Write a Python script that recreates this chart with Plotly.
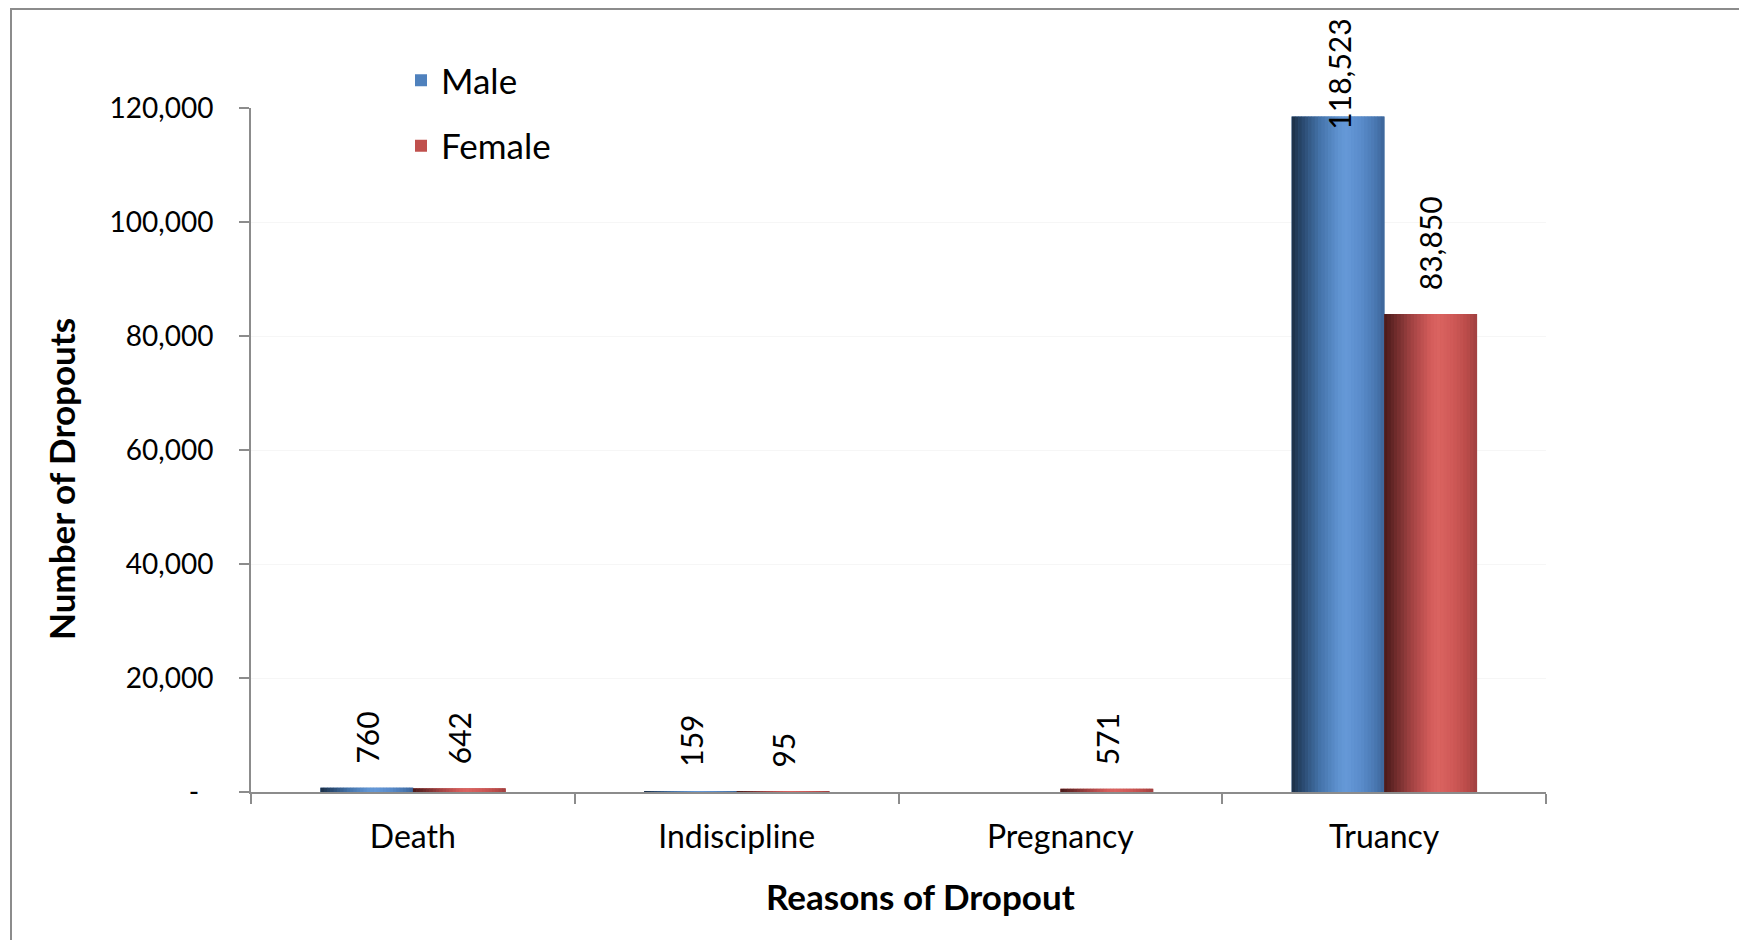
import plotly.graph_objects as go

# ---------------- data ----------------
categories = ["Death", "Indiscipline", "Pregnancy", "Truancy"]
male = [760, 159, None, 118523]
female = [642, 95, 571, 83850]
y_tickvals = [0, 20000, 40000, 60000, 80000, 100000, 120000]
y_ticktext = ["-\u00a0\u00a0", "20,000", "40,000", "60,000", "80,000", "100,000", "120,000"]

# ---------------- styling ----------------
FONT = "Lato"
AX = "#8c8c8c"
BAR_W = 0.2857
N_STRIPS = 28

male_stops = [(0.0, "#1c2f46"), (0.12, "#2a4a70"), (0.3, "#4472a8"), (0.5, "#5e92cf"),
              (0.58, "#6699d8"), (0.75, "#5a8ccb"), (0.9, "#4a78b2"), (1.0, "#3c6598")]
female_stops = [(0.0, "#481a1a"), (0.12, "#6c2a2a"), (0.3, "#a34343"), (0.5, "#d35c5a"),
                (0.58, "#db6461"), (0.75, "#cf5957"), (0.9, "#b94b49"), (1.0, "#9f4040")]


def hex2rgb(h):
    h = h.lstrip("#")
    return tuple(int(h[i:i + 2], 16) for i in (0, 2, 4))


def grad(stops, t):
    for (p0, c0), (p1, c1) in zip(stops[:-1], stops[1:]):
        if p0 <= t <= p1:
            f = (t - p0) / (p1 - p0) if p1 > p0 else 0
            a, b = hex2rgb(c0), hex2rgb(c1)
            return "rgb(%d,%d,%d)" % tuple(round(a[i] + (b[i] - a[i]) * f) for i in range(3))
    return stops[-1][1]


fig = go.Figure()

series = [("Male", male, "#4f81bd", -BAR_W, male_stops),
          ("Female", female, "#c0504d", 0.0, female_stops)]

for name, vals, col, off, stops in series:
    # main bar (legend + hover)
    fig.add_trace(go.Bar(
        name=name, x=categories, y=vals, marker=dict(color=col, line=dict(width=0)),
        width=BAR_W, offset=off, legendgroup=name,
    ))
for name, vals, col, off, stops in series:
    sw = BAR_W / N_STRIPS
    for k in range(N_STRIPS):
        t = (k + 0.5) / N_STRIPS
        fig.add_trace(go.Bar(
            x=categories, y=vals, width=sw * 1.15, offset=off + k * sw,
            marker=dict(color=grad(stops, t), line=dict(width=0)),
            showlegend=False, hoverinfo="skip", legendgroup=name,
        ))

# data labels (outside end, kept inside the chart area)
GAP_UNITS = 22 * 120000 / 684
CAP = 115789
annotations = []
for name, vals, col, off, stops in series:
    shift = -46 if name == "Male" else 46
    for c, v in zip(categories, vals):
        if v is None:
            continue
        annotations.append(dict(
            x=c, y=min(v + GAP_UNITS, CAP), xref="x", yref="y", xshift=shift,
            text=f"{v:,}", textangle=-90, showarrow=False, yanchor="bottom",
            font=dict(family=FONT, size=30, color="black"),
        ))

# axis titles
annotations.append(dict(
    x=(920 - 251) / 1295, y=(792 - 896) / 684, xref="paper", yref="paper",
    text="<b>Reasons of Dropout</b>", showarrow=False, xanchor="center", yanchor="middle",
    font=dict(family=FONT, size=35, color="black"),
))
annotations.append(dict(
    x=(61 - 251) / 1295, y=(792 - 479) / 684, xref="paper", yref="paper",
    text="<b>Number of Dropouts</b>", showarrow=False, xanchor="center", yanchor="middle",
    textangle=-90, font=dict(family=FONT, size=35, color="black"),
))

fig.update_layout(
    width=1739, height=932,
    margin=dict(l=243, r=201, t=100, b=148),
    paper_bgcolor="white", plot_bgcolor="white",
    barmode="overlay",
    font=dict(family=FONT, size=28, color="black"),
    showlegend=True,
    legend=dict(
        x=(401 - 251) / 1295, y=(792 - 51) / 684, xanchor="left", yanchor="top",
        orientation="v", tracegroupgap=17, bgcolor="rgba(0,0,0,0)",
        font=dict(family=FONT, size=35, color="black"),
    ),
    annotations=annotations,
    shapes=[dict(type="rect", xref="paper", yref="paper",
                 x0=(11 - 251) / 1295, x1=1.5, y0=-0.5, y1=1 + (108 - 9) / 684,
                 line=dict(color=AX, width=2), fillcolor="rgba(0,0,0,0)", layer="below")],
    hovermode="closest",
)

fig.update_xaxes(
    type="category", categoryorder="array", categoryarray=categories,
    range=[-0.5, 3.5], showline=True, linecolor=AX, linewidth=2,
    ticks="outside", ticklen=10, tickcolor=AX, tickwidth=2, tickson="boundaries",
    showgrid=False, zeroline=False, ticklabelstandoff=16,
    tickfont=dict(family=FONT, size=32, color="black"),
)
fig.update_yaxes(
    range=[0, 120000], tickvals=y_tickvals, ticktext=y_ticktext,
    showline=True, linecolor=AX, linewidth=2,
    ticks="outside", ticklen=10, tickcolor=AX, tickwidth=2,
    showgrid=True, gridcolor="#f6f6f6", gridwidth=1, zeroline=False,
    ticklabelstandoff=20,
    tickfont=dict(family=FONT, size=28, color="black"),
)

fig.write_html("out.html")
